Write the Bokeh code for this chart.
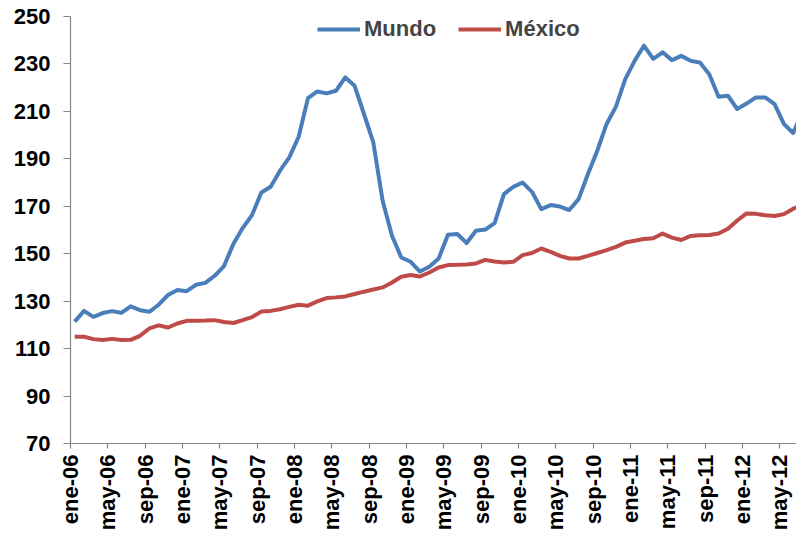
import numpy as np
from bokeh.plotting import figure
from bokeh.models import FixedTicker, Range1d, Legend, LegendItem
from bokeh.embed import file_html
from bokeh.resources import INLINE

# Monthly data, ene-06 .. jul-12
mundo = [121.4, 125.9, 123.4, 125.0, 125.8, 125.1, 127.8, 126.2, 125.5, 128.5,
         132.6, 134.7, 134.2, 136.9, 137.7, 140.7, 144.8, 154.1, 160.8, 166.3,
         175.8, 178.2, 185.0, 190.6, 199.3, 215.6, 218.4, 217.6, 218.7, 224.3,
         220.8, 208.9, 196.9, 172.3, 157.6, 148.4, 146.6, 142.5, 144.5, 148.0,
         158.0, 158.3, 154.5, 159.7, 160.2, 162.9, 175.1, 178.2, 180.0, 176.1,
         168.8, 170.5, 169.9, 168.4, 173.0, 183.6, 193.4, 204.7, 212.0, 223.6,
         231.3, 237.7, 232.1, 234.9, 231.6, 233.4, 231.3, 230.6, 225.7, 216.2,
         216.6, 211.0, 213.3, 215.9, 215.9, 213.1, 204.7, 200.9, 210.0]

mexico = [115.0, 115.0, 114.0, 113.6, 114.1, 113.6, 113.7, 115.4, 118.5, 119.8,
          118.9, 120.6, 121.7, 121.7, 121.8, 122.0, 121.2, 120.8, 122.0, 123.3,
          125.6, 125.9, 126.6, 127.6, 128.5, 128.1, 129.9, 131.3, 131.6, 132.0,
          133.0, 134.0, 134.9, 135.8, 137.9, 140.3, 141.0, 140.4, 142.1, 144.2,
          145.2, 145.3, 145.5, 145.9, 147.4, 146.7, 146.3, 146.6, 149.4, 150.3,
          152.2, 150.8, 149.1, 148.0, 148.0, 149.1, 150.3, 151.5, 152.9, 154.7,
          155.5, 156.2, 156.5, 158.5, 156.8, 155.8, 157.5, 157.8, 157.9, 158.5,
          160.5, 164.0, 167.0, 166.8, 166.2, 165.9, 166.7, 169.0, 170.5]

tick_labels = ["ene-06", "may-06", "sep-06", "ene-07", "may-07", "sep-07",
               "ene-08", "may-08", "sep-08", "ene-09", "may-09", "sep-09",
               "ene-10", "may-10", "sep-10", "ene-11", "may-11", "sep-11",
               "ene-12", "may-12"]
y_ticks = [70, 90, 110, 130, 150, 170, 190, 210, 230, 250]

x = np.arange(len(mundo)) + 0.45
x_ticks = [4 * k for k in range(len(tick_labels))]

FONT = "Liberation Sans"

p = figure(width=796, height=533, output_backend="svg", toolbar_location=None,
           x_range=Range1d(0, 77.8), y_range=Range1d(70, 250),
           min_border_left=70, min_border_right=0, min_border_top=16,
           min_border_bottom=80)
p.outline_line_color = None
p.xgrid.visible = False
p.ygrid.visible = False
p.background_fill_color = "white"

r1 = p.line(x, mundo, line_color="#4A7EBB", line_width=4, line_join="round")
r2 = p.line(x, mexico, line_color="#BE4B48", line_width=4, line_join="round")

axcol = "#868686"
for ax in (p.xaxis[0], p.yaxis[0]):
    ax.axis_line_color = axcol
    ax.axis_line_width = 1.2
    ax.major_tick_line_color = axcol
    ax.major_tick_line_width = 1.2
    ax.minor_tick_line_color = None
    ax.major_tick_in = 0
    ax.major_label_text_font = FONT
    ax.major_label_text_font_style = "bold"
    ax.major_label_text_font_size = "22px"
    ax.major_label_text_color = "black"

p.yaxis[0].ticker = FixedTicker(ticks=y_ticks)
p.yaxis[0].major_tick_out = 7
p.yaxis[0].major_label_standoff = 13

p.xaxis[0].ticker = FixedTicker(ticks=x_ticks)
p.xaxis[0].major_label_overrides = {t: l for t, l in zip(x_ticks, tick_labels)}
p.xaxis[0].major_label_orientation = np.pi / 2
p.xaxis[0].major_tick_out = 5
p.xaxis[0].major_label_standoff = 6

legend = Legend(items=[LegendItem(label="Mundo", renderers=[r1]),
                       LegendItem(label="México", renderers=[r2])],
                orientation="horizontal", location=(247, 401))
legend.label_text_font = FONT
legend.label_text_font_style = "bold"
legend.label_text_font_size = "22px"
legend.glyph_width = 43
legend.glyph_height = 22
legend.label_height = 22
legend.label_standoff = 4
legend.spacing = 22
legend.padding = 0
legend.margin = 0
legend.border_line_color = None
legend.background_fill_alpha = 0
p.add_layout(legend)

open("out.html", "w").write(file_html(p, INLINE))
